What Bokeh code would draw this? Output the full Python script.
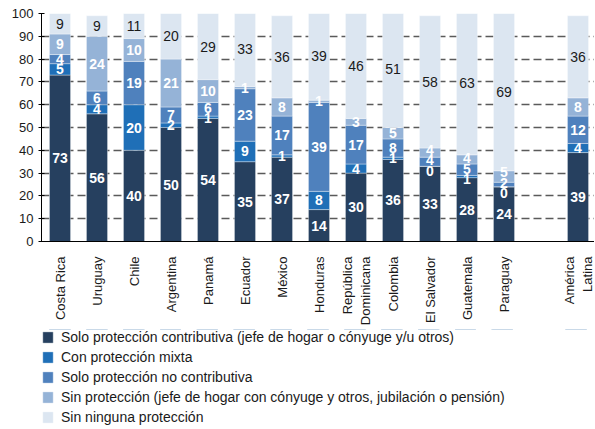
import math
from bokeh.plotting import figure
from bokeh.layouts import column
from bokeh.models import (Range1d, LinearAxis, FixedTicker,
                          ColumnDataSource, Legend, LegendItem)
from bokeh.core.properties import value
from bokeh.embed import file_html
from bokeh.resources import INLINE

# ---- data ----
countries = ["Costa Rica", "Uruguay", "Chile", "Argentina", "Panamá", "Ecuador", "México",
             "Honduras", "República\nDominicana", "Colombia", "El Salvador", "Guatemala",
             "Paraguay", "América\nLatina"]
# slot of each category on the axis (one empty slot before the regional total)
slots = list(range(13)) + [14]
n_slots = 15

contributiva = [73, 56, 40, 50, 54, 35, 37, 14, 30, 36, 33, 28, 24, 39]
mixta = [5, 4, 20, 2, 1, 9, 1, 8, 4, 1, 0, 1, 0, 4]
no_contributiva = [4, 6, 19, 7, 6, 23, 17, 39, 17, 8, 4, 5, 2, 12]
sin_proteccion = [9, 24, 10, 21, 10, 1, 8, 1, 3, 5, 4, 4, 5, 8]
sin_ninguna = [9, 9, 11, 20, 29, 33, 36, 39, 46, 51, 58, 63, 69, 36]

series_keys = ["contributiva", "mixta", "no_contributiva", "sin_proteccion", "sin_ninguna"]
series_labels = [
    "Solo protección contributiva (jefe de hogar o cónyuge y/u otros)",
    "Con protección mixta",
    "Solo protección no contributiva",
    "Sin protección (jefe de hogar con cónyuge y otros, jubilación o pensión)",
    "Sin ninguna protección",
]
colors = ["#26405F", "#1F6FB7", "#4F81BD", "#95B3D7", "#DCE6F1"]

FONT = "Liberation Sans"

xc = [s + 0.5 for s in slots]
data = dict(x=xc, contributiva=contributiva, mixta=mixta,
            no_contributiva=no_contributiva, sin_proteccion=sin_proteccion,
            sin_ninguna=sin_ninguna)
source = ColumnDataSource(data)

p = figure(frame_width=555, frame_height=228,
           x_range=Range1d(0, n_slots), y_range=Range1d(0, 100), x_axis_location=None,
           output_backend="svg", toolbar_location=None,
           min_border_top=13, min_border_left=39, min_border_right=0, min_border_bottom=88)
p.outline_line_color = None
p.background_fill_color = "white"

bar_style = dict(line_color="white", line_alpha=0.45, line_width=0.8)
renderers = p.vbar_stack(series_keys, x="x", width=0.57, source=source, color=colors,
                         **bar_style)

# y axis
p.yaxis.ticker = FixedTicker(ticks=list(range(0, 101, 10)))
p.yaxis.major_tick_in = 3
p.yaxis.major_tick_out = 3
p.yaxis.minor_tick_line_color = None
p.yaxis.axis_line_color = "black"
p.yaxis.major_tick_line_color = "black"
p.yaxis.major_label_text_font = FONT
p.yaxis.major_label_text_font_size = "13px"
p.yaxis.major_label_text_color = "#1a1a1a"
p.yaxis.major_label_standoff = 5

p.xgrid.visible = False
p.ygrid.ticker = FixedTicker(ticks=list(range(10, 101, 10)))
p.ygrid.grid_line_color = "#5a5a5a"
p.ygrid.grid_line_dash = "8 4"
p.ygrid.grid_line_width = 1.3

# category label axis
cax = LinearAxis(ticker=FixedTicker(ticks=xc),
                 major_label_overrides={x: c for x, c in zip(xc, countries)},
                 axis_line_color="black", major_tick_line_color=None, minor_tick_line_color=None,
                 major_label_orientation=math.pi / 2,
                 major_label_text_font=FONT, major_label_text_font_size="13px",
                 major_label_text_color="#1a1a1a", major_label_standoff=9)
p.add_layout(cax, "below")

# ---- data labels ----
def spread(centers, d):
    clusters = [[c] for c in centers]
    changed = True
    while changed:
        changed = False
        for i in range(len(clusters) - 1):
            a, b = clusters[i], clusters[i + 1]
            ma, mb = sum(a) / len(a), sum(b) / len(b)
            top_a = ma + (len(a) - 1) * d / 2
            bot_b = mb - (len(b) - 1) * d / 2
            if bot_b - top_a < d:
                clusters[i] = a + b
                del clusters[i + 1]
                changed = True
                break
    out = []
    for cl in clusters:
        m = sum(cl) / len(cl)
        n = len(cl)
        out += [m + (k - (n - 1) / 2) * d for k in range(n)]
    return out

series_vals = [contributiva, mixta, no_contributiva, sin_proteccion, sin_ninguna]
wx, wy, wt = [], [], []
bx, by, bt = [], [], []
for i, x in enumerate(xc):
    base = 0
    centers = []
    for s in range(4):
        v = series_vals[s][i]
        centers.append(base + v / 2)
        base += v
    ys = spread(centers, 4.6)
    for s in range(4):
        wx.append(x); wy.append(ys[s]); wt.append(str(series_vals[s][i]))
    v = series_vals[4][i]
    bx.append(x); by.append(min(base + v / 2, 100 - 4.5)); bt.append(str(v))

p.text(x=wx, y=wy, text=wt, text_color="white", text_font=value(FONT),
       text_font_size="14px", text_font_style="bold", text_align="center",
       text_baseline="middle")
p.text(x=bx, y=by, text=bt, text_color="#1a1a1a", text_font=value(FONT),
       text_font_size="14px", text_align="center", text_baseline="middle")

# ---- legend panel (separate figure below the chart; its bars lie outside its view) ----
p2 = figure(width=594, height=99, x_range=Range1d(0, n_slots), y_range=Range1d(-2, -1),
            x_axis_location=None, y_axis_location=None,
            output_backend="svg", toolbar_location=None,
            min_border_top=0, min_border_bottom=0, min_border_left=41, min_border_right=0)
p2.grid.visible = False
p2.outline_line_color = None
leg_renderers = [p2.vbar(x="x", top=k, width=0.57, source=source, fill_color=c, **bar_style)
                 for k, c in zip(series_keys, colors)]

legend = Legend(items=[LegendItem(label=lab, renderers=[r]) for lab, r in zip(series_labels, leg_renderers)],
                location="top_left", orientation="vertical",
                glyph_width=13, glyph_height=14, label_height=14, spacing=4,
                padding=0, margin=0, label_standoff=7,
                label_text_font=FONT, label_text_font_size="14px",
                label_text_color="#1a1a1a",
                border_line_color=None, background_fill_alpha=0)
p2.add_layout(legend)

layout = column(p, p2, spacing=0)
open("out.html", "w").write(file_html(layout, INLINE))
